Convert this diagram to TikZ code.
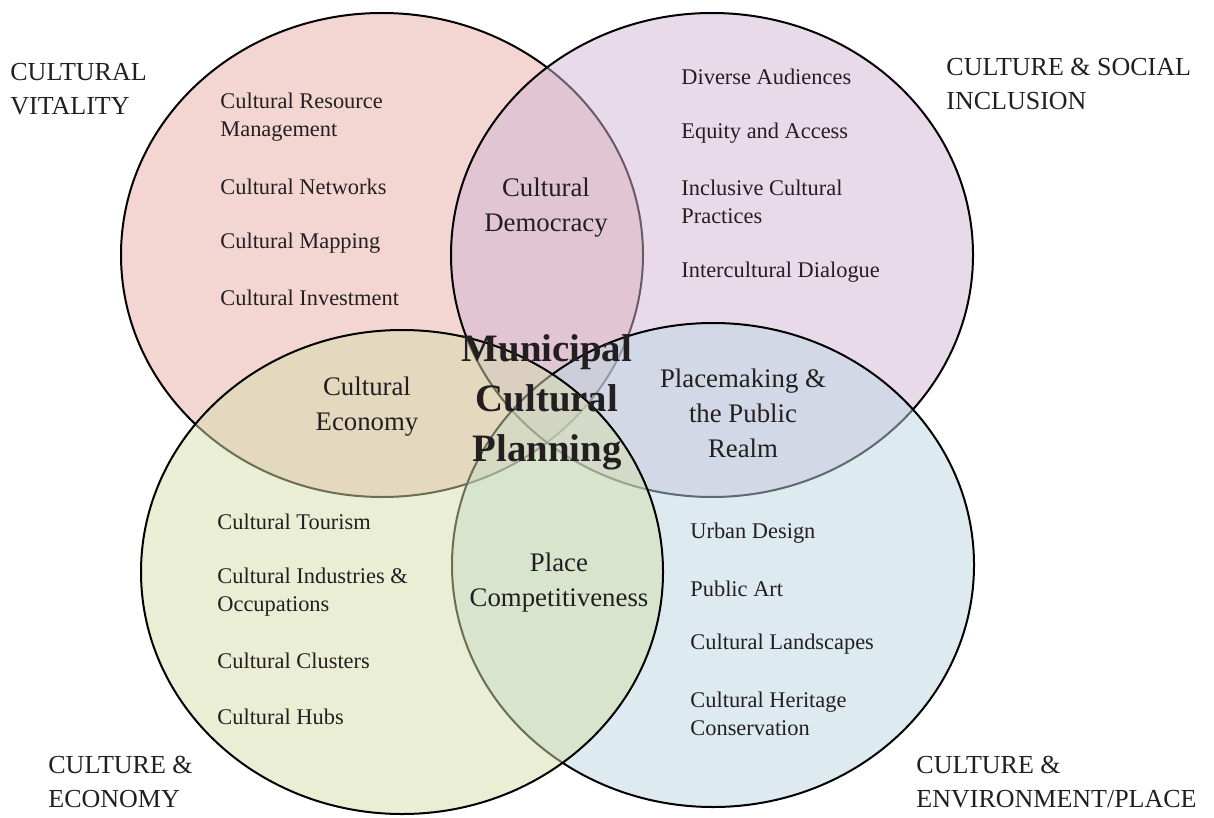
\documentclass[tikz,border=0pt]{standalone}
\usepackage{fontspec}
\setmainfont{Liberation Serif}
\usepackage{tikz}
\usetikzlibrary{positioning}

\definecolor{vitalityfill}{RGB}{231,173,165}
\definecolor{inclusionfill}{RGB}{211,181,213}
\definecolor{economyfill}{RGB}{213,221,171}
\definecolor{placefill}{RGB}{187,215,225}
\definecolor{inktext}{RGB}{35,31,32}

\begin{document}
\begin{tikzpicture}[x=0.5pt, y=-0.5pt,
        venn/.style={draw=black, line width=1pt, fill opacity=0.5, draw opacity=1},
        item/.style={anchor=west, align=left, inner sep=0pt, text=inktext, font=\fontsize{11.2}{14}\selectfont},
        heading/.style={anchor=west, align=left, inner sep=0pt, text=inktext, font=\fontsize{13}{17}\selectfont},
        overlap/.style={align=center, inner sep=0pt, text=inktext, font=\fontsize{13.4}{17.5}\selectfont},
        core/.style={align=center, inner sep=0pt, text=inktext, font=\bfseries\fontsize{19.4}{25}\selectfont}]

        \useasboundingbox (0,0) rectangle (1214,818);

        \coordinate (vitality) at (382,255);
        \coordinate (inclusion) at (712,255);
        \coordinate (economy) at (402,572);
        \coordinate (place) at (713,565);

        % the four circles
        \path[venn, fill=vitalityfill] (vitality) ellipse [x radius=130.5pt, y radius=121pt];
        \path[venn, fill=inclusionfill] (inclusion) ellipse [x radius=130.5pt, y radius=121pt];
        \path[venn, fill=placefill] (place) ellipse [x radius=130.5pt, y radius=121pt];
        \path[venn, fill=economyfill] (economy) ellipse [x radius=130.5pt, y radius=121pt];

        % corner titles
        \node[heading] (vitTitle) at (10,89) {CULTURAL\\VITALITY};
        \node[heading] (incTitle) at (946,84) {CULTURE \& SOCIAL\\INCLUSION};
        \node[heading] (ecoTitle) at (48,782) {CULTURE \&\\ECONOMY};
        \node[heading] (plcTitle) at (916,782) {CULTURE \&\\ENVIRONMENT/PLACE};

        % cultural vitality
        \node[item] (vit1) at (220,117) {Cultural Resource\\Management};
        \node[item] (vit2) at (220,187) {Cultural Networks};
        \node[item] (vit3) at (220,243) {Cultural Mapping};
        \node[item] (vit4) at (220,298) {Cultural Investment};

        % social inclusion
        \node[item] (inc1) at (681,77) {Diverse Audiences};
        \node[item] (inc2) at (681,133) {Equity and Access};
        \node[item] (inc3) at (681,202) {Inclusive Cultural\\Practices};
        \node[item] (inc4) at (681,272) {Intercultural Dialogue};

        % economy
        \node[item] (eco1) at (217,522) {Cultural Tourism};
        \node[item] (eco2) at (217,592) {Cultural Industries \&\\Occupations};
        \node[item] (eco3) at (217,661) {Cultural Clusters};
        \node[item] (eco4) at (217,717) {Cultural Hubs};

        % environment / place
        \node[item] (plc1) at (690,533) {Urban Design};
        \node[item] (plc2) at (690,589) {Public Art};
        \node[item] (plc3) at (690,644) {Cultural Landscapes};
        \node[item] (plc4) at (690,714) {Cultural Heritage\\Conservation};

        % overlaps
        \node[overlap] (democracy) at (546,208) {Cultural\\Democracy};
        \node[overlap] (cultEconomy) at (367,407) {Cultural\\Economy};
        \node[overlap] (placemaking) at (743,413) {Placemaking \&\\the Public\\Realm};
        \node[overlap] (competitive) at (559,583) {Place\\Competitiveness};

        \node[core] (planning) at (547,402) {Municipal\\Cultural\\Planning};

\end{tikzpicture}
\end{document}
